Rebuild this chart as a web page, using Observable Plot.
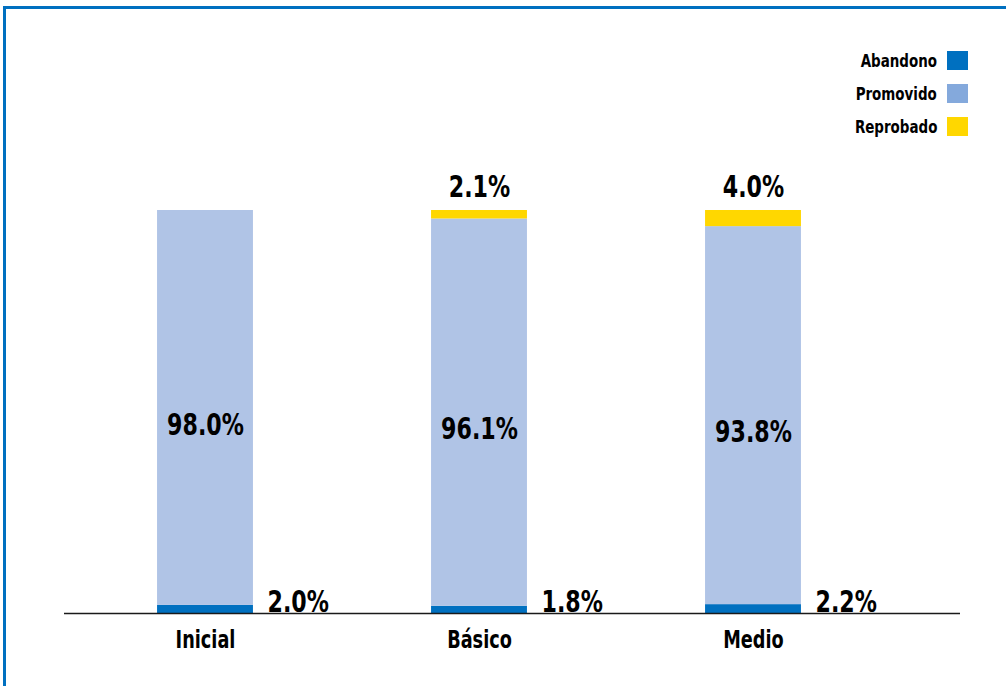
<!DOCTYPE html>
<html><head><meta charset="utf-8">
<script src="https://cdn.jsdelivr.net/npm/d3@7"></script>
<script src="https://cdn.jsdelivr.net/npm/@observablehq/plot@0.6"></script>
<style>
body{margin:0;background:#fff;}
#wrap{position:relative;width:1006px;height:686px;overflow:hidden;font-family:"Liberation Sans Narrow","DejaVu Sans Condensed",sans-serif;font-weight:bold;color:#000;}
#frame{position:absolute;left:3px;top:6px;width:1020px;height:720px;border-top:3px solid #0070c0;border-left:3px solid #0070c0;box-sizing:border-box;pointer-events:none;}
#chart{position:absolute;left:0;top:0;}
#legend{position:absolute;right:38px;top:44px;}
.row{display:flex;align-items:center;justify-content:flex-end;height:33px;font-size:18px;}
.row .lbl{display:inline-block;transform:scaleX(0.83);transform-origin:right center;}
.sw{width:21px;height:19px;margin-left:10px;}
</style>
</head><body>
<div id="wrap"><div id="chart"></div><div id="legend"></div><div id="frame"></div></div>
<script>
const levels = ["Inicial", "Básico", "Medio"];
const series = ["Abandono", "Promovido", "Reprobado"];
const abandono = [2.0, 1.8, 2.2];
const promovido = [98.0, 96.1, 93.8];
const reprobado = [0, 2.1, 4.0];
const barColors = ["#0070c0", "#b0c4e6", "#ffd700"];
const legendColors = ["#0070c0", "#84a9dc", "#ffd700"];

const values = [abandono, promovido, reprobado];
const rows = [];
levels.forEach((lv, i) => {
  series.forEach((s, j) => rows.push({level: lv, estado: s, value: values[j][i]}));
});
const fmt = v => v.toFixed(1) + "%";
const font = '"Liberation Sans Narrow","DejaVu Sans Condensed",sans-serif';

const plot = Plot.plot({
  width: 1006,
  height: 686,
  marginLeft: 64,
  marginRight: 46,
  marginTop: 210,
  marginBottom: 73,
  style: {fontFamily: font, fontWeight: "bold", background: "transparent", color: "#000"},
  x: {type: "band", domain: levels, range: [68, 890], paddingInner: 0.65, paddingOuter: 0.325, round: false},
  y: {domain: [0, 100], axis: null},
  color: {domain: series, range: barColors},
  marks: [
    Plot.barY(rows, Plot.stackY({x: "level", y: "value", fill: "estado", filter: d => d.value > 0})),
    Plot.ruleY([0], {stroke: "#1a1a1a", strokeWidth: 1.6}),
    Plot.axisX({tickSize: 0, tickPadding: 17, fontSize: 24, fontWeight: "bold", label: null, fill: "#000"}),
    Plot.text(rows, Plot.stackY({x: "level", y: "value", text: d => d.estado === "Promovido" ? fmt(d.value) : null,
      fontSize: 30, fontWeight: "bold", fill: "#000", dy: 17})),
    Plot.text(rows, Plot.stackY1({x: "level", y: "value", text: d => d.estado === "Abandono" ? fmt(d.value) : null,
      fontSize: 30, fontWeight: "bold", fill: "#000", textAnchor: "start", lineAnchor: "bottom", dx: 62, dy: -2})),
    Plot.text(rows, Plot.stackY2({x: "level", y: "value", text: d => d.estado === "Reprobado" && d.value > 0 ? fmt(d.value) : null,
      fontSize: 30, fontWeight: "bold", fill: "#000", lineAnchor: "bottom", dy: -14}))
  ]
});
document.getElementById("chart").appendChild(plot);

// condense the glyphs horizontally to approximate the condensed typeface
plot.querySelectorAll("text").forEach(t => {
  const L = t.getComputedTextLength();
  if (L > 0) {
    t.setAttribute("textLength", (L * 0.82).toFixed(1));
    t.setAttribute("lengthAdjust", "spacingAndGlyphs");
  }
});

const legend = document.getElementById("legend");
series.forEach((s, j) => {
  const r = document.createElement("div");
  r.className = "row";
  const t = document.createElement("span");
  t.className = "lbl";
  t.textContent = s;
  const sw = document.createElement("span");
  sw.className = "sw";
  sw.style.background = legendColors[j];
  r.appendChild(t); r.appendChild(sw);
  legend.appendChild(r);
});
</script>
</body></html>
